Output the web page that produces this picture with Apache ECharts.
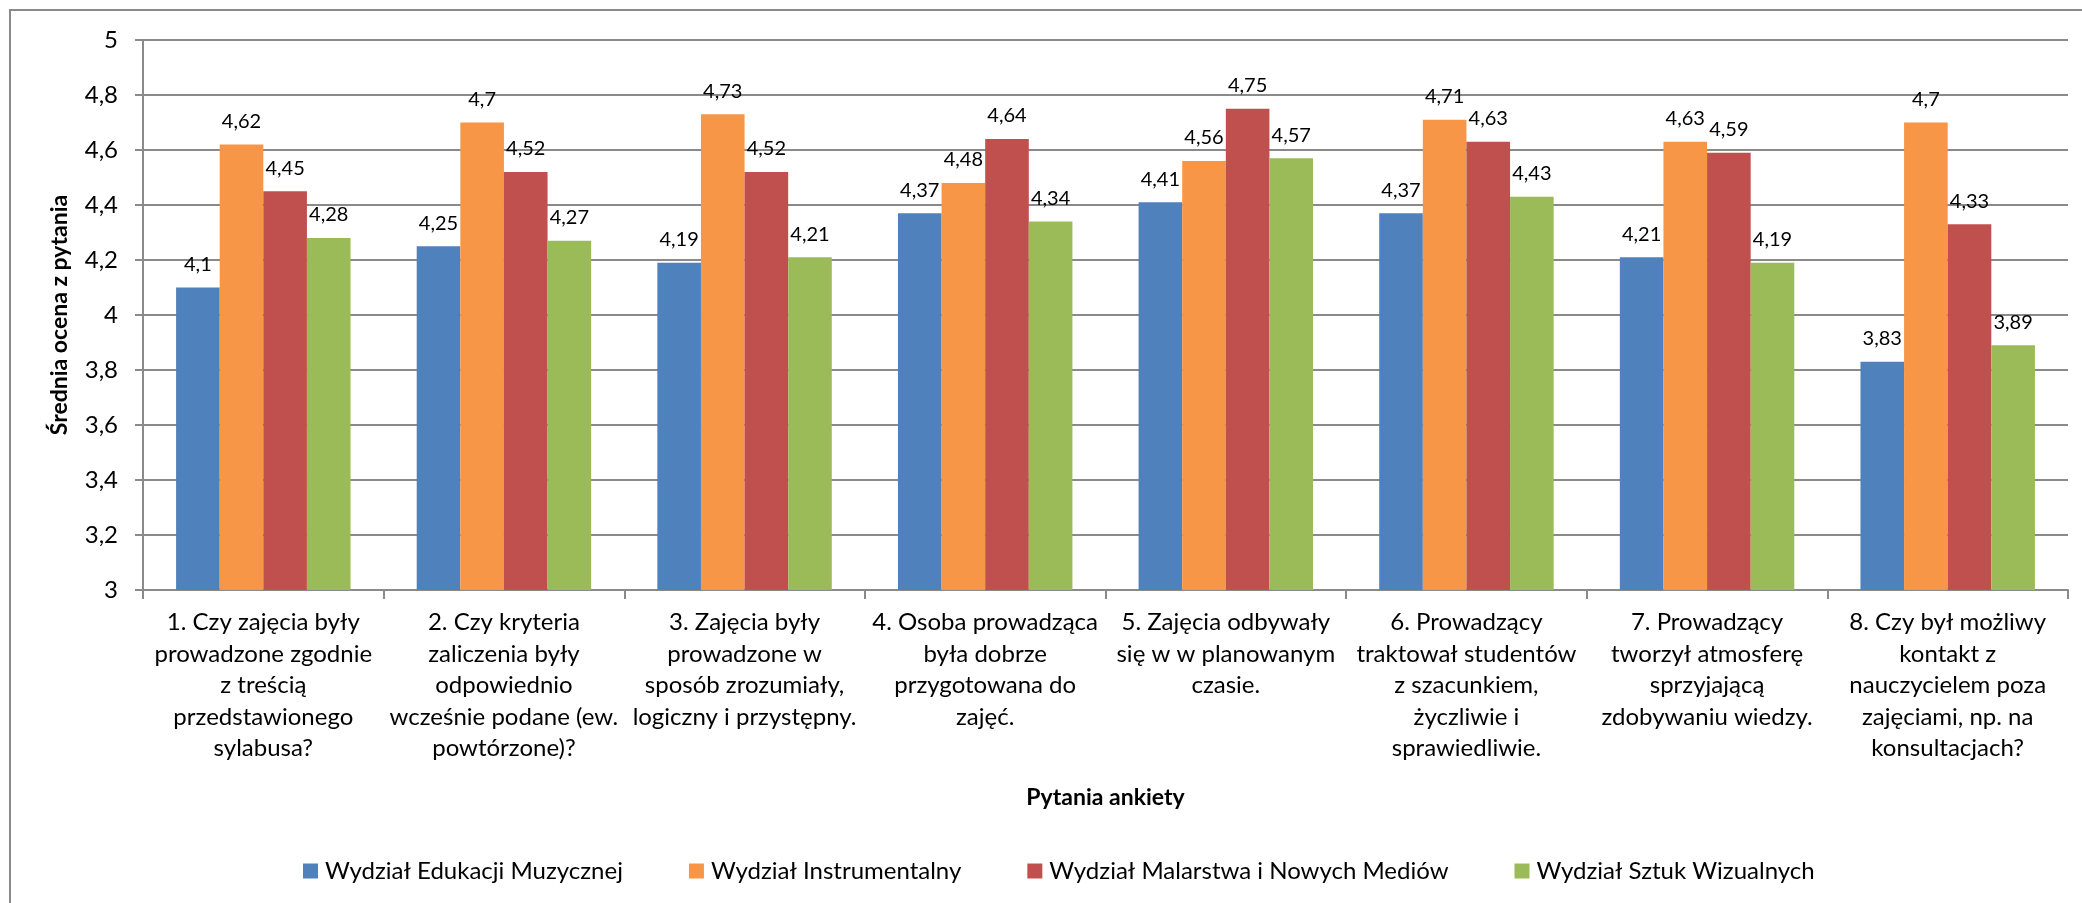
<!DOCTYPE html>
<html>
<head>
<meta charset="utf-8">
<script src="https://cdn.jsdelivr.net/npm/echarts@6/dist/echarts.min.js"></script>
<style>
  html, body { margin: 0; padding: 0; background: #fff; }
  #chart { width: 2082px; height: 903px; }
</style>
</head>
<body>
<div id="chart"></div>
<script>
const categories = [
  "1. Czy zajęcia były\nprowadzone zgodnie\nz treścią\nprzedstawionego\nsylabusa?",
  "2. Czy kryteria\nzaliczenia były\nodpowiednio\nwcześnie podane (ew.\npowtórzone)?",
  "3. Zajęcia były\nprowadzone w\nsposób zrozumiały,\nlogiczny i przystępny.",
  "4. Osoba prowadząca\nbyła dobrze\nprzygotowana do\nzajęć.",
  "5. Zajęcia odbywały\nsię w w planowanym\nczasie.",
  "6. Prowadzący\ntraktował studentów\nz szacunkiem,\nżyczliwie i\nsprawiedliwie.",
  "7. Prowadzący\ntworzył atmosferę\nsprzyjającą\nzdobywaniu wiedzy.",
  "8. Czy był możliwy\nkontakt z\nnauczycielem poza\nzajęciami, np. na\nkonsultacjach?"
];
const seriesNames = [
  "Wydział Edukacji Muzycznej",
  "Wydział Instrumentalny",
  "Wydział Malarstwa i Nowych Mediów",
  "Wydział Sztuk Wizualnych"
];
const eduMuz = [4.1, 4.25, 4.19, 4.37, 4.41, 4.37, 4.21, 3.83];
const instr = [4.62, 4.7, 4.73, 4.48, 4.56, 4.71, 4.63, 4.7];
const malarstwo = [4.45, 4.52, 4.52, 4.64, 4.75, 4.63, 4.59, 4.33];
const sztukWiz = [4.28, 4.27, 4.21, 4.34, 4.57, 4.43, 4.19, 3.89];
const yTicks = [3, 3.2, 3.4, 3.6, 3.8, 4, 4.2, 4.4, 4.6, 4.8, 5];
const xTitle = "Pytania ankiety";
const yTitle = "Średnia ocena z pytania";

const colors = ["#4F81BD", "#F79646", "#C0504D", "#9BBB59"];
const FONT = "Lato";
const fmt = v => String(+Number(v).toFixed(2)).replace(".", ",");

const chart = echarts.init(document.getElementById("chart"));
const allData = [eduMuz, instr, malarstwo, sztukWiz];
chart.setOption({
  animation: false,
  backgroundColor: "#fff",
  textStyle: { fontFamily: FONT },
  color: colors,
  graphic: [{
    type: "rect",
    shape: { x: 10, y: 10, width: 2200, height: 1000 },
    style: { fill: "none", stroke: "#8a8a8a", lineWidth: 2 },
    silent: true
  }],
  grid: { left: 143, top: 40, right: 14, bottom: 313, containLabel: false },
  legend: {
    left: 298, top: 854,
    itemWidth: 15, itemHeight: 15, itemGap: 66,
    icon: "rect",
    textStyle: { fontFamily: FONT, fontSize: 24, color: "#000", padding: [0, 0, 0, 2] },
    data: seriesNames
  },
  xAxis: {
    type: "category",
    data: categories,
    boundaryGap: true,
    name: xTitle,
    nameLocation: "middle",
    nameGap: 196,
    nameTextStyle: { fontFamily: FONT, fontSize: 23, fontWeight: "bold", color: "#000" },
    axisLine: { lineStyle: { color: "#8a8a8a", width: 2 } },
    axisTick: { show: true, length: 9, lineStyle: { color: "#8a8a8a", width: 2 } },
    axisLabel: {
      interval: 0, margin: 17, fontFamily: FONT, fontSize: 24, lineHeight: 31.5,
      color: "#000", align: "center"
    },
    splitLine: { show: false }
  },
  yAxis: {
    type: "value",
    min: 3, max: 5, interval: 0.2,
    name: yTitle,
    nameLocation: "middle",
    nameGap: 72,
    nameRotate: 90,
    nameTextStyle: { fontFamily: FONT, fontSize: 23, fontWeight: "bold", color: "#000" },
    axisLine: { show: true, lineStyle: { color: "#8a8a8a", width: 2 } },
    axisTick: { show: true, length: 8, lineStyle: { color: "#8a8a8a", width: 2 } },
    axisLabel: {
      margin: 25, fontFamily: FONT, fontSize: 24, color: "#000",
      formatter: v => { const m = yTicks.find(t => Math.abs(t - v) < 1e-6); return m === undefined ? "" : fmt(m); }
    },
    splitLine: { show: true, lineStyle: { color: "#8a8a8a", width: 2 } }
  },
  series: seriesNames.map((n, i) => ({
    name: n,
    type: "bar",
    data: allData[i],
    barGap: "0%",
    barCategoryGap: "27.5%",
    itemStyle: { color: colors[i] },
    label: {
      show: true, position: "top", distance: 13,
      fontFamily: FONT, fontSize: 20, color: "#000",
      formatter: p => fmt(p.value)
    }
  }))
});
</script>
</body>
</html>
